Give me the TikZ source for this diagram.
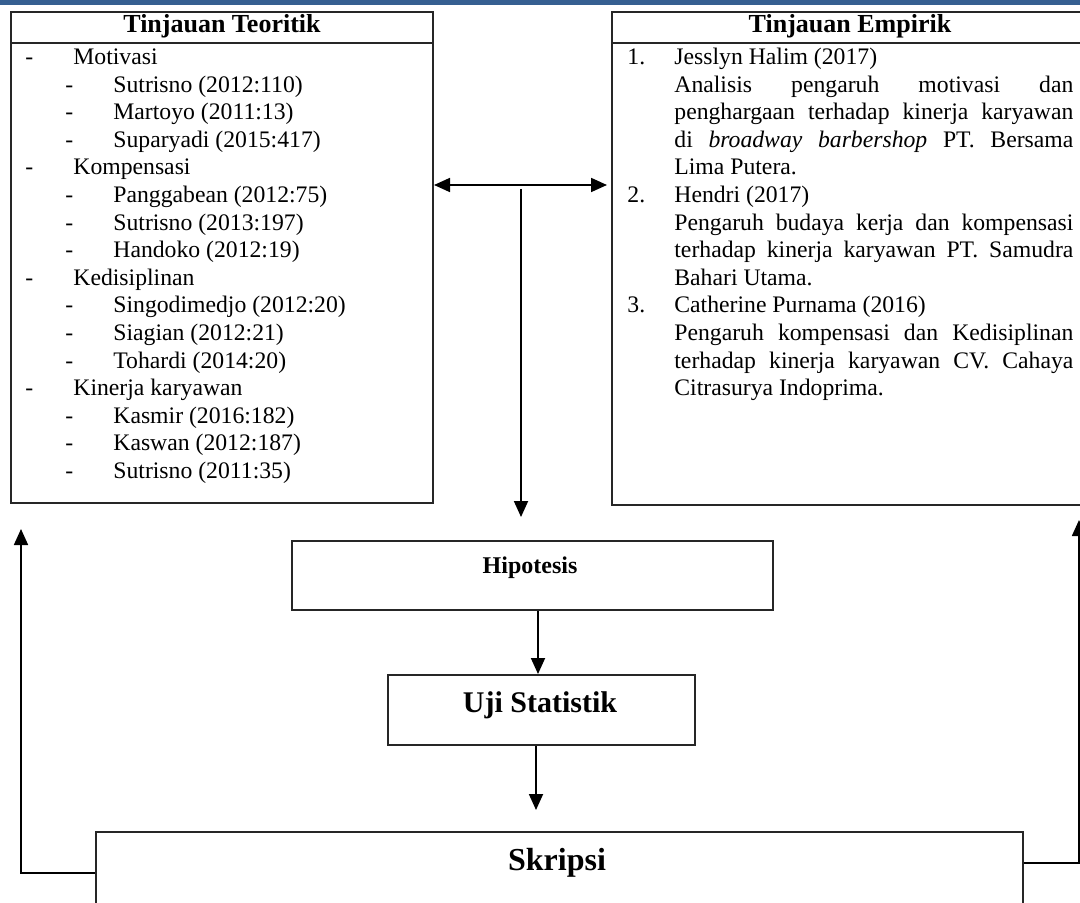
\documentclass[tikz,border=0pt]{standalone}
\usepackage{fontspec}
\setmainfont{Liberation Serif}
\usetikzlibrary{arrows.meta}
\definecolor{bluebar}{RGB}{54,95,145}
\newcommand\lvlA[1]{\makebox[24pt][l]{-}#1\par}
\newcommand\lvlB[1]{\hspace*{20pt}\makebox[24pt][l]{-}#1\par}
\newcommand\numitem[2]{\makebox[23.5pt][l]{#1}#2\par}
\newcommand\jline[1]{\hspace*{23.5pt}\makebox[199.5pt][s]{#1}\par}
\newcommand\lline[1]{\hspace*{23.5pt}#1\par}
\newcommand\bodyfont{\fontsize{11.85}{13.8}\selectfont\frenchspacing}
\begin{document}
\begin{tikzpicture}[x=0.5pt,y=-0.5pt,
  box/.style={draw=black!85, line width=1pt, inner sep=0pt, anchor=north west},
  boxline/.style={draw=black!85, line width=1pt},
  arr/.style={draw=black, line width=0.9pt, -{Triangle[length=8pt,width=7pt]}},
  dbl/.style={draw=black, line width=0.9pt, {Triangle[length=8pt,width=7pt]}-{Triangle[length=8pt,width=7pt]}},
  title/.style={anchor=base, inner sep=0pt, font=\bfseries\fontsize{13}{15}\selectfont},
  txt/.style={anchor=base west, inner sep=0pt}]
\path[use as bounding box] (0,0) rectangle (1080,903);
\clip (0,0) rectangle (1080,903);
\fill[bluebar] (0,0.5) rectangle (1080,5);

% boxes
\node[box, minimum width=211pt, minimum height=245.5pt] (teo) at (10,11) {};
\node[box, minimum width=239pt, minimum height=246.5pt] (emp) at (611,11) {};
\coordinate (hdr) at (0,43);
\draw[boxline] (teo.west |- hdr) -- (teo.east |- hdr);
\draw[boxline] (emp.west |- hdr) -- (emp.east |- hdr);

\node[box, minimum width=240.5pt, minimum height=34.5pt] (hip) at (291,540) {};
\node[box, minimum width=153.5pt, minimum height=35pt] (uji) at (387,674) {};
\node[box, minimum width=463.5pt, minimum height=84.5pt] (skr) at (95,831) {};

% titles
\node[title] (teoT) at (222,33) {Tinjauan Teoritik};
\node[title] (empT) at (850,33) {Tinjauan Empirik};
\node[anchor=base, inner sep=0pt, font=\bfseries\fontsize{12}{14}\selectfont] (hipT) at (530,573) {Hipotesis};
\node[anchor=base, inner sep=0pt, font=\bfseries\fontsize{15}{17}\selectfont] (ujiT) at (540,712) {Uji Statistik};
\node[anchor=base, inner sep=0pt, font=\bfseries\fontsize{16}{18}\selectfont] (skrT) at (557,870) {Skripsi};

% left list
\node[txt] (teoL) at (25,64.5) {\parbox[t]{200pt}{\bodyfont
\lvlA{Motivasi}
\lvlB{Sutrisno (2012:110)}
\lvlB{Martoyo (2011:13)}
\lvlB{Suparyadi (2015:417)}
\lvlA{Kompensasi}
\lvlB{Panggabean (2012:75)}
\lvlB{Sutrisno (2013:197)}
\lvlB{Handoko (2012:19)}
\lvlA{Kedisiplinan}
\lvlB{Singodimedjo (2012:20)}
\lvlB{Siagian (2012:21)}
\lvlB{Tohardi (2014:20)}
\lvlA{Kinerja karyawan}
\lvlB{Kasmir (2016:182)}
\lvlB{Kaswan (2012:187)}
\lvlB{Sutrisno (2011:35)}}};

% right list
\node[txt] (empL) at (627,64.5) {\parbox[t]{225pt}{\bodyfont
\numitem{1.}{Jesslyn Halim (2017)}
\jline{Analisis pengaruh motivasi dan}
\jline{penghargaan terhadap kinerja karyawan}
\jline{di \textit{broadway barbershop} PT. Bersama}
\lline{Lima Putera.}
\numitem{2.}{Hendri (2017)}
\jline{Pengaruh budaya kerja dan kompensasi}
\jline{terhadap kinerja karyawan PT. Samudra}
\lline{Bahari Utama.}
\numitem{3.}{Catherine Purnama (2016)}
\jline{Pengaruh kompensasi dan Kedisiplinan}
\jline{terhadap kinerja karyawan CV. Cahaya}
\lline{Citrasurya Indoprima.}}};

% connectors
\coordinate (dy) at (0,185);
\draw[dbl, shorten >=2pt] (teo.east |- dy) -- (emp.west |- dy);
\coordinate (vtop) at (521,189);
\draw[arr, shorten >=11.5pt] (vtop) -- (vtop |- hip.north);
\coordinate (hx) at (538,0);
\draw[arr] (hip.south -| hx) -- (uji.north -| hx);
\coordinate (ux) at (536,0);
\draw[arr, shorten >=10.5pt] (uji.south -| ux) -- (skr.north -| ux);
\coordinate (lfy) at (0,873);
\coordinate (lfx) at (21,0);
\draw[arr, shorten >=12.5pt] (skr.west |- lfy) -| (lfx |- teo.south);
\coordinate (rfy) at (0,863);
\coordinate (rfx) at (1079,0);
\draw[arr, shorten >=7pt] (skr.east |- rfy) -| (rfx |- emp.south);
\end{tikzpicture}
\end{document}
